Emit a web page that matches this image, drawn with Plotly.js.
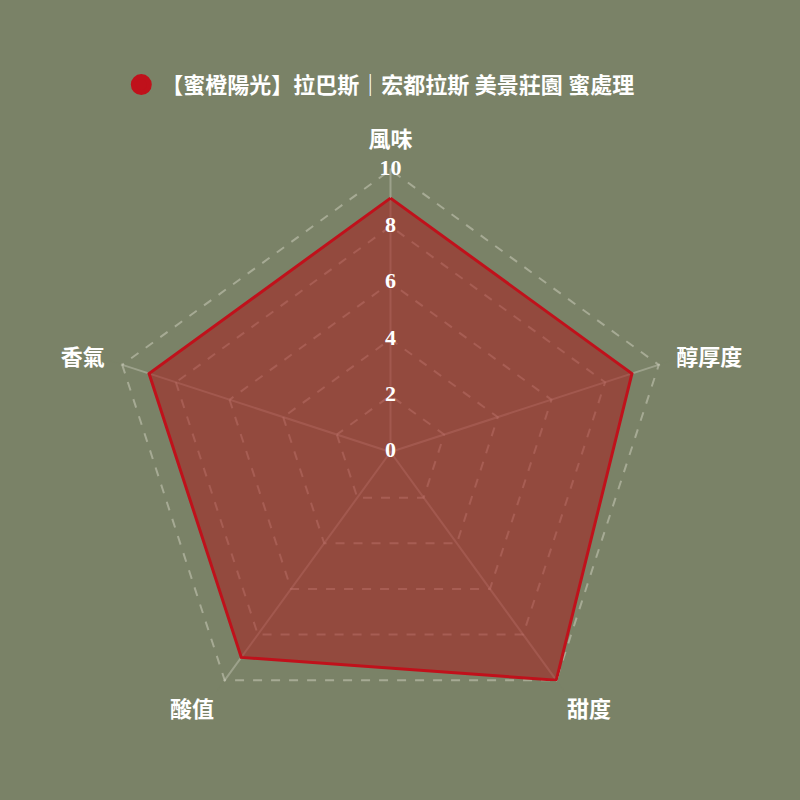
<!DOCTYPE html>
<html>
<head>
<meta charset="utf-8">
<script src="https://cdn.plot.ly/plotly-3.0.1.min.js"></script>
<style>
  html, body { margin: 0; padding: 0; background: #7a8267; }
  #chart { width: 800px; height: 800px; }
</style>
</head>
<body>
<div id="chart"></div>
<script>
"use strict";

const seriesName = "【蜜橙陽光】拉巴斯｜宏都拉斯 美景莊園 蜜處理";
const categories = ["風味", "醇厚度", "甜度", "酸值", "香氣"];
const scores = [9, 9, 10, 9, 9];
const radialTicks = [0, 2, 4, 6, 8, 10];

const fontFamily = "'Liberation Serif', 'DejaVu Serif', 'Noto Sans CJK TC', serif";
const red = "#c0111b";
const bg = "#7a8267";

// the area itself, kept out of the legend
const area = {
    type: "scatterpolar",
    name: seriesName,
    r: scores.concat([scores[0]]),
    theta: categories.concat([categories[0]]),
    mode: "lines",
    fill: "toself",
    fillcolor: "rgba(168, 30, 30, 0.55)",
    line: { color: red, width: 3 },
    showlegend: false,
    hoverinfo: "skip",
};

// radial tick labels, centred on the top spoke like the reference
// (plotly hides a point sitting exactly on r = 0, so nudge it off the centre)
const tickLabels = {
    type: "scatterpolar",
    r: radialTicks.map((v) => v || 0.001),
    theta: radialTicks.map(() => categories[0]),
    mode: "text",
    text: radialTicks.map(String),
    textposition: "middle center",
    textfont: { family: fontFamily, size: 22, color: "#ffffff", weight: "bold" },
    cliponaxis: false,
    showlegend: false,
    hoverinfo: "skip",
};

// legend entry only: a round marker like the reference
const legendDot = {
    type: "scatterpolar",
    name: seriesName,
    r: [null],
    theta: [categories[0]],
    mode: "markers",
    marker: {
        color: red,
        size: 16,
        line: { color: red, width: 5 },
    },
    hoverinfo: "skip",
};

Plotly.newPlot(
    "chart",
    [area, tickLabels, legendDot],
    {
        width: 800,
        height: 800,
        paper_bgcolor: bg,
        plot_bgcolor: bg,
        margin: { t: 168, b: 64, l: 107, r: 126 },
        font: { family: fontFamily, color: "#ffffff", size: 20 },
        showlegend: true,
        legend: {
            orientation: "h",
            x: 0.476,
            xanchor: "center",
            xref: "container",
            y: 0.894,
            yref: "container",
            yanchor: "middle",
            font: { family: fontFamily, size: 22, color: "#ffffff", weight: "bold" },
            itemsizing: "trace",
            itemwidth: 30,
            bgcolor: "rgba(0,0,0,0)",
        },
        polar: {
            bgcolor: "rgba(0,0,0,0)",
            gridshape: "linear",
            domain: { x: [0, 1], y: [0, 1] },
            radialaxis: {
                // a hair past 10 so the outer dashed ring is drawn as a grid line
                range: [0, 10.05],
                tickvals: radialTicks,
                showticklabels: false,
                angle: 90,
                showline: false,
                ticks: "",
                gridcolor: "rgba(220, 220, 205, 0.45)",
                griddash: "dash",
                gridwidth: 1.5,
            },
            angularaxis: {
                direction: "clockwise",
                rotation: 90,
                showline: false,
                ticks: "outside",
                ticklen: 12,
                tickcolor: bg,
                gridcolor: "rgba(220, 220, 205, 0.35)",
                gridwidth: 1.5,
                tickfont: { family: fontFamily, size: 22, color: "#ffffff", weight: "bold" },
            },
        },
    },
    { displayModeBar: false, responsive: false }
);
</script>
</body>
</html>
